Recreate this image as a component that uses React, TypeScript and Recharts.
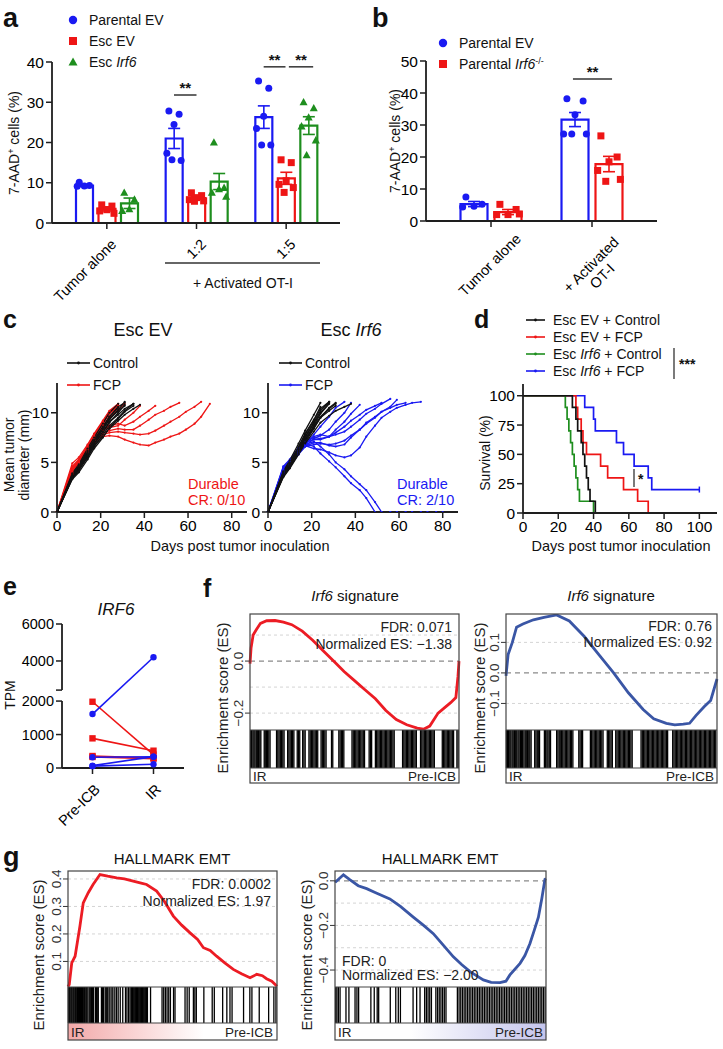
import React from 'react';
import { ComposedChart, LineChart, Line, Bar, Scatter, XAxis, YAxis, ErrorBar, ReferenceLine } from 'recharts';

const FONT = '"Liberation Sans", Arial, Helvetica, sans-serif';
const BLUE = '#1a1af2';
const RED = '#ee1515';
const GREEN = '#1e8e1e';
const AX = '#1e1e1e';
const G_RED = '#ec1c24';
const G_BLUE = '#3a56a5';

// ---------------- panel a ----------------
const A_GROUPS = ['Tumor alone', '1:2', '1:5'];
const A_PE_MEAN = [9.3, 21.0, 26.3];
const A_PE_SEM = [0.25, 2.5, 2.8];
const A_PE_PTS = [[10.1, 9.3, 9.2, 9.1], [27.8, 27.0, 24.5, 17.3, 15.5, 15.7], [35.3, 33.5, 26.5, 23.5, 19.4, 19.4]];
const A_EE_MEAN = [3.5, 6.2, 11.1];
const A_EE_SEM = [0.5, 0.35, 1.5];
const A_EE_PTS = [[4.5, 4.2, 3.3, 3.0, 2.4], [7.5, 6.8, 6.3, 5.8, 5.5, 5.4], [15.7, 15.0, 10.5, 9.6, 8.8, 7.6]];
const A_EI_MEAN = [4.9, 10.3, 24.2];
const A_EI_SEM = [1.3, 2.0, 2.2];
const A_EI_PTS = [[7.5, 5.8, 3.4, 3.0], [20.0, 8.7, 8.4, 7.5, 6.5], [30.0, 28.5, 26.2, 24.0, 20.5, 16.8]];
const A_Y_TICKS = [0, 10, 20, 30, 40];
const A_SIG = [{ g: 1, a: 0, b: 1, y: 31.8 }, { g: 2, a: 0, b: 0.97, y: 38.8 }, { g: 2, a: 1.12, b: 2.2, y: 38.8 }];

// ---------------- panel b ----------------
const B_GROUPS = ['Tumor alone', '+ Activated\nOT-I'];
const B_PE_MEAN = [5.3, 31.7];
const B_PE_SEM = [0.8, 2.2];
const B_PE_PTS = [[7.5, 5.2, 4.6, 4.4], [38.2, 37.5, 33.2, 27.2, 27.2, 27.2]];
const B_PI_MEAN = [2.8, 17.8];
const B_PI_SEM = [0.8, 2.4];
const B_PI_PTS = [[5.2, 3.6, 2.0, 2.0, 2.2], [26.6, 20.0, 18.5, 15.8, 13.0, 12.4]];
const B_Y_TICKS = [0, 10, 20, 30, 40, 50];
const B_SIG = [{ g: 1, a: -0.06, b: 1.09, y: 44.4 }];

// ---------------- panel c ----------------
const C_DAYS = [0, 7, 10, 14, 17, 21, 24, 28, 31, 35, 38, 42, 45, 49, 52, 56, 59, 63, 66, 70, 73, 77, 80];
const C_X_TICKS = [0, 20, 40, 60, 80];
const C_Y_TICKS = [0, 5, 10];
const C_EV_CTRL = [
  [0, 3.6, 4.4, 5.8, 6.9, 8.0, 9.0, 10.0, 10.8],
  [0, 3.4, 4.2, 5.5, 6.6, 7.8, 8.7, 9.5, 10.2, 10.9],
  [0, 3.8, 4.7, 6.2, 7.2, 8.6, 9.6, 10.6, 11.0],
  [0, 3.5, 4.3, 5.6, 6.7, 7.6, 8.4, 9.2, 9.8, 10.4, 10.8],
  [0, 3.9, 4.8, 6.4, 7.5, 8.9, 10.0, 10.9],
  [0, 3.3, 4.0, 5.3, 6.4, 7.5, 8.5, 9.4, 10.1, 10.7],
  [0, 3.7, 4.5, 6.0, 7.0, 8.3, 9.3, 10.3, 11.1],
  [0, 3.6, 4.6, 6.1, 7.3, 8.5, 9.6, 10.5],
  [0, 3.4, 4.3, 5.7, 6.8, 8.1, 9.1, 9.8, 10.4, 10.9],
  [0, 3.5, 4.4, 5.9, 7.1, 8.4, 9.4, 10.2, 10.7],
];
const C_EV_FCP = [
  [0, 4.9, 5.5, 6.8, 7.9, 9.2, 10.2, 10.9],
  [0, 4.6, 5.3, 6.6, 7.7, 9.0, 9.9, 10.6],
  [0, 4.2, 5.0, 6.3, 7.4, 8.6, 9.6, 10.3, 10.9],
  [0, 4.4, 5.1, 6.5, 7.6, 8.8, 10.0, 10.7],
  [0, 4.0, 4.8, 6.2, 7.3, 8.3, 8.5, 8.7, 9.3, 10.0, 10.7],
  [0, 4.3, 5.0, 6.4, 7.5, 8.3, 8.7, 8.9, 8.7, 9.1, 9.6, 10.2, 10.7],
  [0, 3.9, 4.7, 6.1, 7.2, 8.0, 8.2, 8.4, 8.3, 8.3, 8.7, 9.3, 9.8, 10.2, 10.6, 11.0],
  [0, 4.1, 4.8, 6.2, 7.2, 7.8, 8.0, 8.1, 8.0, 7.9, 7.8, 7.9, 8.2, 8.7, 9.1, 9.6, 10.1, 10.6, 11.1],
  [0, 3.8, 4.6, 6.0, 7.0, 7.6, 7.7, 7.6, 7.3, 7.0, 6.8, 6.7, 7.0, 7.3, 7.6, 7.9, 8.3, 8.9, 9.6, 10.9],
  [0, 4.5, 5.2, 6.7, 7.8, 9.1, 10.1, 10.8],
];
const C_I6_CTRL = [
  [0, 3.9, 4.9, 6.4, 7.6, 9.0, 10.2, 11.1],
  [0, 3.7, 4.6, 6.1, 7.3, 8.7, 9.9, 10.9],
  [0, 4.1, 5.2, 6.9, 8.2, 9.8, 11.0],
  [0, 3.6, 4.5, 5.9, 7.0, 8.4, 9.5, 10.5, 11.0],
  [0, 3.8, 4.8, 6.3, 7.5, 8.9, 10.0, 11.0],
  [0, 3.5, 4.4, 5.8, 6.9, 8.1, 9.0, 9.7, 10.2, 10.6, 10.9],
  [0, 4.0, 5.0, 6.5, 7.8, 9.2, 10.4, 11.1],
  [0, 3.7, 4.7, 6.2, 7.3, 8.6, 9.6, 10.4, 10.9],
  [0, 3.9, 4.9, 6.6, 7.9, 9.3, 10.6],
  [0, 3.6, 4.6, 6.0, 7.2, 8.5, 9.5, 10.2, 10.7],
];
const C_I6_FCP = [
  [0, 4.0, 4.8, 6.0, 6.9, 7.8, 8.6, 9.6, 10.5, 11.1],
  [0, 3.8, 4.6, 5.8, 6.6, 7.4, 7.7, 8.3, 9.1, 10.0, 11.0],
  [0, 4.2, 5.0, 6.1, 6.8, 7.6, 7.8, 7.6, 7.8, 8.1, 8.6, 9.3, 9.9, 10.4, 10.9, 11.4],
  [0, 4.1, 4.9, 6.0, 6.6, 6.8, 6.9, 6.8, 6.9, 7.2, 7.7, 8.3, 8.9, 9.5, 10.1, 10.6, 11.3],
  [0, 4.4, 5.1, 6.2, 6.7, 6.4, 6.3, 6.0, 5.7, 5.5, 5.7, 6.5, 7.6, 8.7, 9.5, 10.1, 10.5, 10.8, 11.0, 11.1],
  [0, 4.3, 5.0, 6.2, 6.9, 6.6, 5.9, 5.1, 4.5, 3.6, 2.9, 2.2, 1.4, 0, 0, 0, 0, 0, 0, 0, 0, 0],
  [0, 4.0, 4.8, 6.0, 6.8, 7.1, 6.6, 5.8, 5.0, 4.3, 3.6, 2.8, 2.2, 1.0, 0, 0, 0, 0, 0, 0, 0, 0, 0],
  [0, 4.5, 5.2, 6.4, 7.0, 7.3, 7.3, 7.6, 8.3, 9.1, 9.9, 10.8],
  [0, 3.9, 4.7, 5.9, 6.6, 7.0, 7.0, 6.7, 6.6, 6.8, 7.5, 8.3, 9.0, 9.6, 10.1, 10.5, 10.8, 11.0],
  [0, 4.6, 5.3, 6.5, 7.2, 7.5, 7.4, 7.6, 8.0, 8.6, 9.2, 9.8, 10.3, 10.7, 11.0],
];

// ---------------- panel d ----------------
const D_X_TICKS = [0, 20, 40, 60, 80, 100];
const D_Y_TICKS = [0, 25, 50, 75, 100];
const D_EV_CTRL = [[0, 100], [28, 90], [30, 80], [31, 70], [33, 60], [34, 50], [35, 40], [36, 30], [37, 20], [38, 10], [41, 0]];
const D_EV_FCP = [[0, 100], [30, 90], [31, 80], [33, 70], [34, 60], [36, 50], [44, 40], [48, 30], [57, 20], [65, 10], [71, 0]];
const D_I6_CTRL = [[0, 100], [24, 90], [25, 80], [26, 70], [27, 60], [28, 50], [29, 40], [30, 30], [31, 20], [32, 10], [40, 0]];
const D_I6_FCP = [[0, 100], [35, 90], [40, 80], [41, 70], [53, 60], [57, 50], [63, 40], [71, 30], [73, 20], [100, 20]];

// ---------------- panel e ----------------
const E_CATS = ['Pre-ICB', 'IR'];
const E_PRE_RED = [1980, 886, 358, 330];
const E_IR_RED = [400, 517, 300, 280];
const E_PRE_BLUE = [1612, 320, 70, 55];
const E_IR_BLUE = [4200, 335, 340, 110];
const E_TICK_VALUES = [0, 1000, 2000, 4000, 6000];
const E_BREAK_LO = 2000;
const E_BREAK_HI = 2425;

// ---------------- panels f, g (GSEA) ----------------
const F1_X = [0, 0.005, 0.015, 0.03, 0.05, 0.08, 0.12, 0.16, 0.2, 0.25, 0.3, 0.35, 0.4, 0.45, 0.5, 0.55, 0.6, 0.65, 0.7, 0.75, 0.8, 0.83, 0.86, 0.9, 0.93, 0.96, 0.985, 0.995, 1];
const F1_ES = [-0.01, 0.05, 0.1, 0.12, 0.145, 0.155, 0.156, 0.15, 0.14, 0.115, 0.08, 0.04, 0.0, -0.04, -0.075, -0.11, -0.145, -0.19, -0.225, -0.245, -0.258, -0.262, -0.25, -0.2, -0.18, -0.16, -0.14, -0.06, 0.0];
const F2_X = [0, 0.01, 0.03, 0.05, 0.08, 0.13, 0.18, 0.24, 0.3, 0.37, 0.44, 0.51, 0.58, 0.65, 0.7, 0.76, 0.8, 0.84, 0.87, 0.9, 0.94, 0.97, 1];
const F2_ES = [-0.01, 0.06, 0.1, 0.15, 0.16, 0.174, 0.182, 0.19, 0.17, 0.12, 0.06, 0.0, -0.065, -0.12, -0.15, -0.165, -0.17, -0.168, -0.165, -0.14, -0.11, -0.09, -0.02];
const G1_X = [0, 0.006, 0.018, 0.034, 0.057, 0.073, 0.097, 0.12, 0.153, 0.19, 0.233, 0.27, 0.312, 0.35, 0.376, 0.424, 0.46, 0.504, 0.544, 0.584, 0.62, 0.648, 0.68, 0.711, 0.75, 0.791, 0.83, 0.871, 0.903, 0.93, 0.95, 0.975, 1];
const G1_ES = [0.008, 0.016, 0.095, 0.119, 0.228, 0.313, 0.35, 0.38, 0.416, 0.41, 0.404, 0.4, 0.392, 0.385, 0.38, 0.356, 0.32, 0.265, 0.232, 0.204, 0.18, 0.15, 0.14, 0.119, 0.095, 0.071, 0.055, 0.041, 0.053, 0.048, 0.037, 0.028, 0.01];
const G2_X = [0, 0.005, 0.04, 0.07, 0.11, 0.15, 0.19, 0.26, 0.31, 0.371, 0.42, 0.466, 0.51, 0.561, 0.6, 0.64, 0.703, 0.74, 0.782, 0.81, 0.829, 0.877, 0.9, 0.924, 0.945, 0.964, 0.98, 0.995, 1];
const G2_ES = [0, -0.003, 0.027, 0.005, -0.022, -0.035, -0.052, -0.081, -0.115, -0.163, -0.2, -0.237, -0.285, -0.341, -0.375, -0.407, -0.444, -0.455, -0.456, -0.45, -0.422, -0.37, -0.335, -0.281, -0.22, -0.163, -0.08, 0.007, 0.01];
const F1_HITS = [3, 8, 14, 19, 24, 30, 35, 41, 47, 52, 68, 73, 79, 84, 90, 96, 127, 133, 139, 145, 151, 157, 163, 180, 186, 192, 198, 204, 210, 226, 232, 238, 252, 258, 264, 282, 288, 294, 300, 306, 312, 318, 324, 340, 346, 352, 358, 364, 390, 396, 425, 431, 437, 443, 449, 488, 494, 500, 506, 512, 518, 524, 530, 536, 542, 548, 570, 576, 582, 600, 606, 612, 618, 624, 630, 636, 642, 648, 654, 660, 666, 672, 678, 684, 690, 730, 736, 742, 748, 754, 760, 766, 772, 778, 784, 790, 796, 816, 822, 828, 834, 840, 846, 852, 858, 864, 870, 876, 882, 920, 926, 932, 938, 944, 950, 956, 962, 968, 974, 990, 996];
const F2_HITS = [2, 7, 12, 18, 23, 29, 34, 40, 46, 51, 57, 62, 68, 74, 79, 85, 91, 96, 102, 108, 113, 119, 136, 142, 148, 153, 159, 182, 188, 194, 199, 205, 211, 240, 246, 252, 257, 263, 269, 275, 281, 287, 293, 299, 305, 311, 317, 345, 351, 357, 363, 400, 406, 412, 418, 424, 430, 436, 442, 448, 454, 460, 480, 486, 492, 498, 504, 520, 526, 532, 538, 544, 550, 556, 562, 568, 574, 580, 586, 592, 598, 640, 646, 652, 658, 664, 670, 676, 682, 688, 694, 700, 706, 712, 718, 724, 730, 736, 742, 748, 754, 760, 766, 790, 796, 802, 808, 814, 820, 826, 832, 838, 844, 850, 856, 862, 868, 874, 880, 886, 892, 898, 904, 910, 916, 922, 928, 934, 940, 946, 952, 958, 964, 970, 976, 982, 988, 994];
const G1_HITS = [2, 6, 10, 15, 19, 24, 28, 33, 37, 42, 46, 51, 55, 60, 64, 69, 73, 78, 82, 87, 91, 96, 104, 109, 113, 118, 122, 131, 136, 140, 145, 160, 165, 170, 178, 183, 188, 196, 201, 210, 215, 224, 232, 240, 250, 262, 275, 282, 290, 297, 303, 308, 312, 316, 320, 324, 328, 332, 336, 340, 344, 348, 352, 356, 360, 364, 368, 372, 376, 380, 395, 450, 458, 466, 474, 482, 490, 505, 512, 560, 570, 580, 600, 607, 614, 650, 690, 700, 740, 760, 775, 785, 840, 870, 880, 915, 960, 985, 995];
const G2_HITS = [3, 9, 16, 24, 52, 66, 95, 104, 112, 170, 186, 200, 207, 262, 288, 300, 310, 370, 387, 403, 425, 433, 441, 449, 457, 478, 486, 494, 502, 510, 518, 526, 580, 588, 596, 604, 612, 620, 628, 636, 644, 652, 660, 668, 676, 684, 692, 700, 708, 716, 724, 732, 740, 748, 756, 764, 772, 780, 788, 796, 804, 812, 820, 828, 836, 844, 852, 860, 868, 876, 884, 892, 900, 908, 916, 924, 932, 940, 948, 956, 964, 972, 980, 988, 996];

// ---------------- layout helpers ----------------
const PAD = 14;
function frame(p: any) {
  const left = p.x0 - p.yw - PAD;
  const top = p.y0 - PAD;
  return {
    style: { position: 'absolute' as const, left, top },
    width: p.x1 - left + PAD,
    height: p.y1 - top + p.xh + PAD,
    margin: { top: PAD, right: PAD, bottom: PAD, left: PAD },
  };
}
const JIT_FRAC = [-0.3, 0.3, 0, -0.42, 0.42, -0.12, 0.15];

function mark(shape: string, color: string, size: number) {
  return (p: any) => {
    const { cx, cy } = p;
    const k = `m${p.index}`;
    if (cx == null || cy == null) return <g key={k} />;
    if (shape === 'circle') return <circle key={k} cx={cx} cy={cy} r={size} fill={color} />;
    if (shape === 'square') return <rect key={k} x={cx - size} y={cy - size} width={size * 2} height={size * 2} fill={color} />;
    return <polygon key={k} points={`${cx},${cy - size * 1.25} ${cx + size * 1.15},${cy + size * 0.85} ${cx - size * 1.15},${cy + size * 0.85}`} fill={color} />;
  };
}

const RotTick = (props: any) => {
  const { x, y, payload, dx = 4, dy = 8, anchor = 'end', labels } = props;
  const raw = labels ? labels[payload.value] : payload.value;
  const lines = String(raw).split('\n');
  return (
    <g transform={`translate(${x + dx},${y + dy})`}>
      <text transform="rotate(-45)" textAnchor={anchor} fontSize={14.5} fill="#000" fontFamily={FONT}>
        {lines.map((l: string, i: number) => (
          <tspan key={i} x={0} dy={i === 0 ? 9 : 16}>{l}</tspan>
        ))}
      </text>
    </g>
  );
};

const axisProps = {
  tickSize: 6,
  tickLine: { stroke: AX, strokeWidth: 1.5 },
  axisLine: { stroke: AX, strokeWidth: 1.8 },
};
const tickFont = { fontSize: 15.5, fill: '#000', fontFamily: FONT };

function GroupBars({ plot, groups, series, padL, padR, barW, barGap, yMax, yTicks, sigs, tick }: any) {
  const f = frame(plot);
  const pw = plot.x1 - plot.x0;
  const band = (pw - padL - padR) / groups.length;
  const d0 = -(padL + band / 2) / band;
  const d1 = d0 + pw / band;
  const n = series.length;
  const off = (k: number) => (k - (n - 1) / 2) * (barW + barGap);
  const rows = groups.map((g: string, i: number) => {
    const r: any = { g };
    series.forEach((s: any, k: number) => {
      r['m' + k] = s.mean[i];
      r['e' + k] = s.sem[i];
    });
    return r;
  });
  const pts = series.map((s: any, k: number) =>
    s.pts.flatMap((vals: number[], i: number) =>
      vals.map((v: number, j: number) => ({ x: i + (off(k) + JIT_FRAC[j % JIT_FRAC.length] * barW) / band, y: v }))
    )
  );
  return (
    <div style={f.style}>
      <ComposedChart width={f.width} height={f.height} margin={f.margin} data={rows} barGap={barGap}>
        <XAxis xAxisId="c" dataKey="g" type="category" padding={{ left: padL, right: padR }} height={plot.xh} interval={0} tick={tick} {...axisProps} />
        <XAxis xAxisId="n" dataKey="x" type="number" domain={[d0, d1]} hide allowDataOverflow />
        <YAxis width={plot.yw} domain={[0, yMax]} ticks={yTicks} interval={0} allowDataOverflow tick={tickFont} {...axisProps} />
        {series.map((s: any, k: number) => (
          <Bar key={s.name} xAxisId="c" dataKey={'m' + k} barSize={barW} fill="#fff" stroke={s.color} strokeWidth={2.2} isAnimationActive={false}>
            <ErrorBar dataKey={'e' + k} width={6} stroke={s.color} strokeWidth={1.6} direction="y" />
          </Bar>
        ))}
        {series.map((s: any, k: number) => (
          <Scatter key={s.name + 'p'} xAxisId="n" data={pts[k]} dataKey="y" shape={mark(s.shape, s.color, 3.5)} isAnimationActive={false} />
        ))}
        {sigs.map((sg: any, i: number) => (
          <ReferenceLine
            key={'s' + i}
            xAxisId="n"
            segment={[{ x: sg.g + off(sg.a) / band, y: sg.y }, { x: sg.g + off(sg.b) / band, y: sg.y }]}
            stroke="#333"
            strokeWidth={1.5}
            label={{ value: '**', position: 'top', fontSize: 15, fontWeight: 'bold', fill: '#111', offset: 2 }}
          />
        ))}
      </ComposedChart>
    </div>
  );
}

function Growth({ plot, ctrl, fcp, fcpColor }: any) {
  const f = frame(plot);
  const rows = C_DAYS.map((t, i) => {
    const r: any = { t };
    ctrl.forEach((a: number[], k: number) => { r['c' + k] = i < a.length ? a[i] : null; });
    fcp.forEach((a: number[], k: number) => { r['f' + k] = i < a.length ? a[i] : null; });
    return r;
  });
  return (
    <div style={f.style}>
      <LineChart width={f.width} height={f.height} margin={f.margin} data={rows}>
        <XAxis dataKey="t" type="number" domain={[0, 87]} ticks={C_X_TICKS} interval={0} height={plot.xh} tick={tickFont} {...axisProps} />
        <YAxis width={plot.yw} domain={[0, 13]} ticks={C_Y_TICKS} interval={0} allowDataOverflow tick={tickFont} {...axisProps} />
        {fcp.map((_: any, k: number) => (
          <Line key={'f' + k} dataKey={'f' + k} stroke={fcpColor} strokeWidth={1.3} dot={{ r: 1.1, fill: fcpColor, stroke: fcpColor, strokeWidth: 0 }} isAnimationActive={false} />
        ))}
        {ctrl.map((_: any, k: number) => (
          <Line key={'c' + k} dataKey={'c' + k} stroke="#111" strokeWidth={1.3} dot={{ r: 1.1, fill: '#111', stroke: '#111', strokeWidth: 0 }} isAnimationActive={false} />
        ))}
      </LineChart>
    </div>
  );
}

function Survival() {
  const plot = { x0: 523, y0: 384, x1: 717, y1: 513, yw: 38, xh: 25 };
  const f = frame(plot);
  const series = [
    { id: 'i6f', pts: D_I6_FCP, color: BLUE },
    { id: 'evf', pts: D_EV_FCP, color: RED },
    { id: 'i6c', pts: D_I6_CTRL, color: GREEN },
    { id: 'evc', pts: D_EV_CTRL, color: '#111' },
  ];
  return (
    <div style={f.style}>
      <LineChart width={f.width} height={f.height} margin={f.margin}>
        <XAxis dataKey="t" type="number" domain={[0, 110]} ticks={D_X_TICKS} interval={0} height={plot.xh} tick={tickFont} {...axisProps} />
        <YAxis width={plot.yw} domain={[0, 110]} ticks={D_Y_TICKS} interval={0} tick={tickFont} {...axisProps} />
        {series.map((s) => (
          <Line
            key={s.id}
            data={s.pts.map(([t, v]) => ({ t, s: v }))}
            dataKey="s"
            type="stepAfter"
            stroke={s.color}
            strokeWidth={1.7}
            isAnimationActive={false}
            dot={(p: any) =>
              s.id === 'i6f' && p.index === s.pts.length - 1 ? (
                <line key="cen" x1={p.cx} y1={p.cy - 3} x2={p.cx} y2={p.cy + 3} stroke={s.color} strokeWidth={1.5} />
              ) : (
                <g key={'d' + p.index} />
              )
            }
          />
        ))}
      </LineChart>
    </div>
  );
}

function tpm(v: number) {
  return v <= E_BREAK_LO ? v : 2328 + (v - E_BREAK_HI) * 0.5525;
}

function PanelE() {
  const plot = { x0: 62, y0: 624, x1: 184, y1: 768, yw: 44, xh: 45 };
  const f = frame(plot);
  const labelTicks = E_TICK_VALUES.map(tpm);
  const ticks = [...labelTicks, tpm(E_BREAK_HI)];
  const fmt = (v: number) => {
    const i = labelTicks.indexOf(v);
    return i >= 0 ? String(E_TICK_VALUES[i]) : '';
  };
  return (
    <div style={f.style}>
      <LineChart width={f.width} height={f.height} margin={f.margin}>
        <XAxis dataKey="x" type="number" domain={[-0.5, 1.5]} ticks={[0, 1]} interval={0} height={plot.xh} tick={<RotTick labels={E_CATS} dx={2} dy={8} />} {...axisProps} />
        <YAxis width={plot.yw} domain={[0, tpm(6000)]} ticks={ticks} interval={0} tickFormatter={fmt} tick={{ ...tickFont, fontSize: 14.5 }} tickSize={6} tickLine={{ stroke: AX, strokeWidth: 1.5 }} axisLine={false} />
        <ReferenceLine segment={[{ x: -0.5, y: 0 }, { x: -0.5, y: E_BREAK_LO }]} stroke={AX} strokeWidth={1.8} />
        <ReferenceLine segment={[{ x: -0.5, y: tpm(E_BREAK_HI) }, { x: -0.5, y: tpm(6000) }]} stroke={AX} strokeWidth={1.8} />
        {E_PRE_RED.map((v, i) => (
          <Line key={'r' + i} data={[{ x: 0, y: tpm(v) }, { x: 1, y: tpm(E_IR_RED[i]) }]} dataKey="y" stroke={RED} strokeWidth={1.6} dot={mark('square', RED, 3.2)} isAnimationActive={false} />
        ))}
        {E_PRE_BLUE.map((v, i) => (
          <Line key={'b' + i} data={[{ x: 0, y: tpm(v) }, { x: 1, y: tpm(E_IR_BLUE[i]) }]} dataKey="y" stroke={BLUE} strokeWidth={1.6} dot={mark('circle', BLUE, 3.2)} isAnimationActive={false} />
        ))}
      </LineChart>
    </div>
  );
}

const GseaTick = (p: any) => {
  const { x, y, payload } = p;
  const v = payload.value;
  const s = (v < 0 ? '\u2212' : '') + Math.abs(v).toFixed(1);
  return (
    <text x={x} y={y} transform={`rotate(-90 ${x} ${y})`} textAnchor="middle" fontSize={13.5} fill="#333" fontFamily={FONT}>
      {s}
    </text>
  );
};

function Gsea({ box, xs, es, yDomain, ticks, grid, zero, color, hits }: any) {
  const rows = xs.map((x: number, i: number) => ({ x, y: es[i] }));
  const f1 = frame({ x0: box.x0, y0: box.yTop, x1: box.x1, y1: box.yMid, yw: 24, xh: 0 });
  const f2 = frame({ x0: box.x0, y0: box.yMid, x1: box.x1, y1: box.yBar, yw: 0, xh: 0 });
  return (
    <>
      <div style={f1.style}>
        <LineChart width={f1.width} height={f1.height} margin={f1.margin} data={rows}>
          <XAxis dataKey="x" type="number" domain={[0, 1]} hide />
          <YAxis width={24} domain={yDomain} ticks={ticks} interval={0} allowDataOverflow axisLine={false} tickSize={5} tickLine={{ stroke: '#333' }} tick={<GseaTick />} />
          {grid.map((g: number) => (
            <ReferenceLine key={'g' + g} y={g} stroke="#d4d4d4" strokeDasharray="3 3" />
          ))}
          {zero && <ReferenceLine y={0} stroke="#8a8a8a" strokeDasharray="5 4" strokeWidth={1.2} />}
          <Line dataKey="y" stroke={color} strokeWidth={2.8} dot={false} isAnimationActive={false} />
        </LineChart>
      </div>
      <div style={f2.style}>
        <ComposedChart width={f2.width} height={f2.height} margin={f2.margin} data={[{ x: 0, y: 0 }, { x: 1, y: 1 }]}>
          <XAxis dataKey="x" type="number" domain={[0, 1]} hide />
          <YAxis domain={[0, 1]} hide />
          <Line dataKey="y" stroke="none" dot={false} isAnimationActive={false} />
          {hits.map((h: number) => (
            <ReferenceLine key={'h' + h} x={h / 1000} stroke="#000" strokeWidth={1.3} />
          ))}
        </ComposedChart>
      </div>
    </>
  );
}

const F1_BOX = { x0: 250, x1: 459, yTop: 614, yMid: 730, yBar: 768, yBot: 783 };
const F2_BOX = { x0: 506, x1: 717, yTop: 614, yMid: 730, yBar: 768, yBot: 783 };
const G1_BOX = { x0: 68, x1: 277, yTop: 871, yMid: 987, yBar: 1023, yBot: 1040 };
const G2_BOX = { x0: 335, x1: 546, yTop: 871, yMid: 987, yBar: 1023, yBot: 1040 };

function T({ x, y, s = 14, a = 'start', w = 'normal', it = false, c = '#111', r, children }: any) {
  return (
    <text x={x} y={y} fontSize={s} textAnchor={a} fontWeight={w} fontStyle={it ? 'italic' : 'normal'} fill={c} transform={r ? `rotate(${r} ${x} ${y})` : undefined} fontFamily={FONT}>
      {children}
    </text>
  );
}

function BoxFrame({ b }: any) {
  return (
    <g fill="none" stroke="#444" strokeWidth={1.2}>
      <rect x={b.x0} y={b.yTop} width={b.x1 - b.x0} height={b.yBot - b.yTop} />
      <line x1={b.x0} x2={b.x1} y1={b.yMid} y2={b.yMid} />
      <line x1={b.x0} x2={b.x1} y1={b.yBar} y2={b.yBar} />
    </g>
  );
}

function Overlay() {
  const legLine = (x1: number, x2: number, y: number, c: string) => (
    <g>
      <line x1={x1} x2={x2} y1={y} y2={y} stroke={c} strokeWidth={1.6} />
      <circle cx={(x1 + x2) / 2} cy={y} r={1.4} fill={c} />
    </g>
  );
  return (
    <svg width={723} height={1049} style={{ position: 'absolute', left: 0, top: 0, pointerEvents: 'none' }}>
      <defs>
        <linearGradient id="gradR" x1="0" x2="1" y1="0" y2="0">
          <stop offset="0" stopColor="#f3a9a9" />
          <stop offset="0.65" stopColor="#ffffff" />
        </linearGradient>
        <linearGradient id="gradB" x1="0" x2="1" y1="0" y2="0">
          <stop offset="0.35" stopColor="#ffffff" />
          <stop offset="1" stopColor="#c4c4ec" />
        </linearGradient>
      </defs>

      {/* panel a */}
      <T x={3} y={27} s={27} w="bold">a</T>
      <circle cx={73} cy={20} r={4.2} fill={BLUE} />
      <T x={89} y={25}>Parental EV</T>
      <rect x={69} y={37} width={8} height={8} fill={RED} />
      <T x={89} y={46}>Esc EV</T>
      <polygon points="73,57.5 77.5,65.5 68.5,65.5" fill={GREEN} />
      <T x={89} y={67}>Esc <tspan fontStyle="italic">Irf6</tspan></T>
      <T x={19} y={143} a="middle" r={-90}>7-AAD<tspan dy={-5} fontSize={9}>+</tspan><tspan dy={5}> cells (%)</tspan></T>
      <line x1={165} x2={320} y1={263} y2={263} stroke="#333" strokeWidth={1.5} />
      <T x={243} y={288} a="middle">+ Activated OT-I</T>

      {/* panel b */}
      <T x={372} y={27} s={27} w="bold">b</T>
      <circle cx={443} cy={43} r={4.2} fill={BLUE} />
      <T x={459} y={48}>Parental EV</T>
      <rect x={439} y={60} width={8} height={8} fill={RED} />
      <T x={459} y={69}>Parental <tspan fontStyle="italic">Irf6</tspan><tspan dy={-5} fontSize={9}>-/-</tspan></T>
      <T x={400} y={141} a="middle" r={-90}>7-AAD<tspan dy={-5} fontSize={9}>+</tspan><tspan dy={5}> cells (%)</tspan></T>

      {/* panel c */}
      <T x={3} y={328} s={25} w="bold">c</T>
      <T x={143} y={336} s={18} a="middle">Esc EV</T>
      <T x={351} y={336} s={18} a="middle">Esc <tspan fontStyle="italic">Irf6</tspan></T>
      {legLine(67, 90, 363, '#111')}
      <T x={93} y={368}>Control</T>
      {legLine(67, 90, 385, RED)}
      <T x={93} y={390}>FCP</T>
      {legLine(279, 302, 363, '#111')}
      <T x={305} y={368}>Control</T>
      {legLine(279, 302, 385, BLUE)}
      <T x={305} y={390}>FCP</T>
      <T x={14} y={455} a="middle" r={-90}>Mean tumor</T>
      <T x={29} y={455} a="middle" r={-90}>diameter (mm)</T>
      <T x={240} y={551} a="middle" s={14.5}>Days post tumor inoculation</T>
      <T x={188} y={489} c={RED} s={14.5}>Durable</T>
      <T x={188} y={505} c={RED} s={14.5}>CR: 0/10</T>
      <T x={397} y={489} c={BLUE} s={14.5}>Durable</T>
      <T x={397} y={505} c={BLUE} s={14.5}>CR: 2/10</T>

      {/* panel d */}
      <T x={474} y={328} s={25} w="bold">d</T>
      {legLine(526, 545, 320, '#111')}
      <T x={553} y={325}>Esc EV + Control</T>
      {legLine(526, 545, 337, RED)}
      <T x={553} y={342}>Esc EV + FCP</T>
      {legLine(526, 545, 354, GREEN)}
      <T x={553} y={359}>Esc <tspan fontStyle="italic">Irf6</tspan> + Control</T>
      {legLine(526, 545, 371, BLUE)}
      <T x={553} y={376}>Esc <tspan fontStyle="italic">Irf6</tspan> + FCP</T>
      <line x1={674} x2={674} y1={348} y2={379} stroke="#333" strokeWidth={1.3} />
      <T x={679} y={369} w="bold">***</T>
      <line x1={634} x2={634} y1={469} y2={487} stroke="#333" strokeWidth={1.3} />
      <T x={638} y={484} w="bold">*</T>
      <T x={490} y={453} a="middle" r={-90}>Survival (%)</T>
      <T x={621} y={551} a="middle" s={14.5}>Days post tumor inoculation</T>

      {/* panel e */}
      <T x={3} y={595} s={25} w="bold">e</T>
      <T x={116} y={615} s={17} a="middle" it>IRF6</T>
      <T x={15} y={695} a="middle" r={-90}>TPM</T>

      {/* panel f */}
      <T x={203} y={597} s={25} w="bold">f</T>
      <T x={355} y={601} s={15} a="middle"><tspan fontStyle="italic">Irf6</tspan> signature</T>
      <T x={611} y={601} s={15} a="middle"><tspan fontStyle="italic">Irf6</tspan> signature</T>
      <T x={228} y={698} s={15} a="middle" r={-90} c="#222">Enrichment score (ES)</T>
      <T x={485} y={698} s={15} a="middle" r={-90} c="#222">Enrichment score (ES)</T>
      <BoxFrame b={F1_BOX} />
      <BoxFrame b={F2_BOX} />
      <T x={452} y={632} a="end" c="#222">FDR: 0.071</T>
      <T x={452} y={649} a="end" c="#222">Normalized ES: {'\u2212'}1.38</T>
      <T x={712} y={631} a="end" c="#222">FDR: 0.76</T>
      <T x={712} y={647} a="end" c="#222">Normalized ES: 0.92</T>
      <T x={253} y={781} s={13.5} c="#222">IR</T>
      <T x={456} y={781} s={13.5} a="end" c="#222">Pre-ICB</T>
      <T x={509} y={781} s={13.5} c="#222">IR</T>
      <T x={714} y={781} s={13.5} a="end" c="#222">Pre-ICB</T>

      {/* panel g */}
      <T x={3} y={866} s={27} w="bold">g</T>
      <T x={172} y={864} s={15} a="middle">HALLMARK EMT</T>
      <T x={440} y={864} s={15} a="middle">HALLMARK EMT</T>
      <T x={44} y={955} s={15} a="middle" r={-90} c="#222">Enrichment score (ES)</T>
      <T x={312} y={955} s={15} a="middle" r={-90} c="#222">Enrichment score (ES)</T>
      <rect x={G1_BOX.x0} y={G1_BOX.yBar} width={G1_BOX.x1 - G1_BOX.x0} height={G1_BOX.yBot - G1_BOX.yBar} fill="url(#gradR)" />
      <rect x={G2_BOX.x0} y={G2_BOX.yBar} width={G2_BOX.x1 - G2_BOX.x0} height={G2_BOX.yBot - G2_BOX.yBar} fill="url(#gradB)" />
      <BoxFrame b={G1_BOX} />
      <BoxFrame b={G2_BOX} />
      <T x={271} y={889} a="end" c="#222">FDR: 0.0002</T>
      <T x={271} y={906} a="end" c="#222">Normalized ES: 1.97</T>
      <T x={342} y={966} c="#222">FDR: 0</T>
      <T x={342} y={980} c="#222">Normalized ES: {'\u2212'}2.00</T>
      <T x={71} y={1037} s={13.5} c="#222">IR</T>
      <T x={273} y={1037} s={13.5} a="end" c="#222">Pre-ICB</T>
      <T x={338} y={1037} s={13.5} c="#222">IR</T>
      <T x={543} y={1037} s={13.5} a="end" c="#222">Pre-ICB</T>
    </svg>
  );
}

export default function App() {
  const aSeries = [
    { name: 'Parental EV', color: BLUE, mean: A_PE_MEAN, sem: A_PE_SEM, pts: A_PE_PTS, shape: 'circle' },
    { name: 'Esc EV', color: RED, mean: A_EE_MEAN, sem: A_EE_SEM, pts: A_EE_PTS, shape: 'square' },
    { name: 'Esc Irf6', color: GREEN, mean: A_EI_MEAN, sem: A_EI_SEM, pts: A_EI_PTS, shape: 'triangle' },
  ];
  const bSeries = [
    { name: 'Parental EV', color: BLUE, mean: B_PE_MEAN, sem: B_PE_SEM, pts: B_PE_PTS, shape: 'circle' },
    { name: 'Parental Irf6-/-', color: RED, mean: B_PI_MEAN, sem: B_PI_SEM, pts: B_PI_PTS, shape: 'square' },
  ];
  return (
    <div style={{ position: 'absolute', left: 0, top: 0, width: 723, height: 1049, overflow: 'hidden', background: '#fff', fontFamily: FONT }}>
      <style>{`body{margin:0}.recharts-surface{overflow:visible}`}</style>
      <GroupBars
        plot={{ x0: 52, y0: 62, x1: 340, y1: 223, yw: 40, xh: 70 }}
        groups={A_GROUPS}
        series={aSeries}
        padL={10}
        padR={9}
        barW={17}
        barGap={5.5}
        yMax={40}
        yTicks={A_Y_TICKS}
        sigs={A_SIG}
        tick={<RotTick dx={4} dy={8} />}
      />
      <GroupBars
        plot={{ x0: 426, y0: 61, x1: 657, y1: 221, yw: 34, xh: 70 }}
        groups={B_GROUPS}
        series={bSeries}
        padL={14.5}
        padR={14.5}
        barW={27}
        barGap={7}
        yMax={50}
        yTicks={B_Y_TICKS}
        sigs={B_SIG}
        tick={<RotTick dx={-4} dy={33} anchor="middle" />}
      />
      <Growth plot={{ x0: 57, y0: 383, x1: 247, y1: 512, yw: 30, xh: 25 }} ctrl={C_EV_CTRL} fcp={C_EV_FCP} fcpColor={RED} />
      <Growth plot={{ x0: 268, y0: 383, x1: 458, y1: 512, yw: 30, xh: 25 }} ctrl={C_I6_CTRL} fcp={C_I6_FCP} fcpColor={BLUE} />
      <Survival />
      <PanelE />
      <Gsea box={F1_BOX} xs={F1_X} es={F1_ES} yDomain={[-0.265, 0.181]} ticks={[-0.2, 0]} grid={[-0.2, -0.1, 0.1]} zero color={G_RED} hits={F1_HITS} />
      <Gsea box={F2_BOX} xs={F2_X} es={F2_ES} yDomain={[-0.187, 0.193]} ticks={[-0.1, 0, 0.1]} grid={[-0.1, 0.1]} zero color={G_BLUE} hits={F2_HITS} />
      <Gsea box={G1_BOX} xs={G1_X} es={G1_ES} yDomain={[0.007, 0.429]} ticks={[0.1, 0.2, 0.3, 0.4]} grid={[0.1, 0.2, 0.3, 0.4]} zero={false} color={G_RED} hits={G1_HITS} />
      <Gsea box={G2_BOX} xs={G2_X} es={G2_ES} yDomain={[-0.476, 0.044]} ticks={[-0.4, -0.2, 0]} grid={[-0.1, -0.2, -0.3, -0.4]} zero color={G_BLUE} hits={G2_HITS} />
      <Overlay />
    </div>
  );
}
